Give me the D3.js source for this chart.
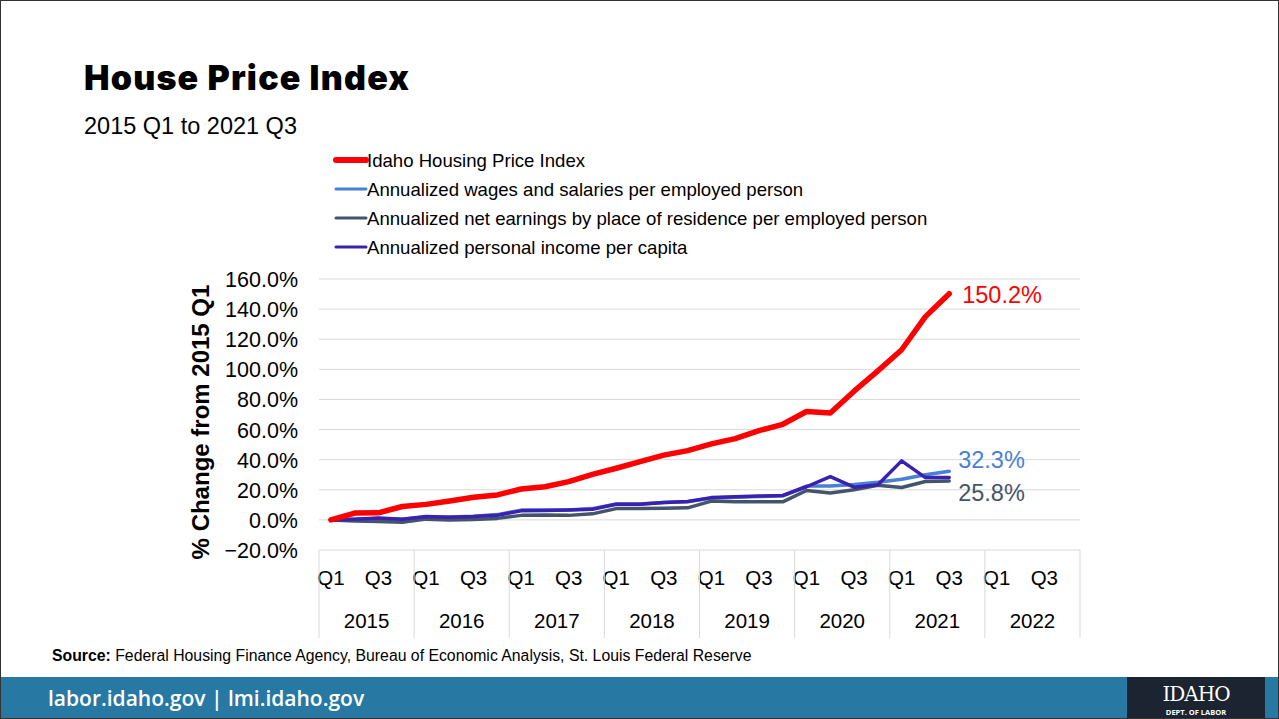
<!DOCTYPE html>
<html>
<head>
<meta charset="utf-8">
<script src="https://cdn.jsdelivr.net/npm/d3@7"></script>
<style>
  html, body { margin: 0; padding: 0; background: #fff; }
  svg { display: block; }
</style>
</head>
<body>
<svg id="chart" width="1279" height="719"></svg>
<script>
// ---------- DATA ----------
const years = ["2015", "2016", "2017", "2018", "2019", "2020", "2021", "2022"];
const quarters = ["Q1", "Q2", "Q3", "Q4"];
const shownQuarterLabels = ["Q1", "Q3"];
const yTicks = [-20, 0, 20, 40, 60, 80, 100, 120, 140, 160];

const housingIndex = [0, 4.5, 4.7, 8.9, 10.3, 12.5, 15, 16.6, 20.5, 22, 25.4, 30.2,
  34.3, 38.7, 43, 46, 50.5, 54, 59.3, 63.5, 72, 71, 85.5, 99, 113, 135, 150.2];
const wagesSalaries = [0, 0.5, 1, 0.5, 2, 2, 2.5, 3.5, 6.5, 6.5, 6.5, 7.5,
  10.5, 10.5, 11.5, 12, 14.5, 15, 15.5, 16, 22.5, 22.5, 23.5, 25, 27, 30, 32.3];
const netEarnings = [0, -0.8, -1, -1.5, 0.5, 0, 0.3, 1, 3, 3.3, 3, 4,
  7.5, 7.5, 7.8, 8, 12.5, 12, 12, 12, 19.5, 17.8, 20, 23, 21.5, 25.5, 25.8];
const personalIncome = [0, 0.5, 1.3, 0.4, 2.2, 1.8, 2.2, 3.1, 6, 6.2, 6.6, 7.1,
  10.4, 10.4, 11.5, 12.2, 14.8, 15.3, 15.8, 16.2, 22, 28.8, 21.7, 23.3, 39.2, 28.1, 28.1];

const seriesNames = [
  "Idaho Housing Price Index",
  "Annualized wages and salaries per employed person",
  "Annualized net earnings by place of residence per employed person",
  "Annualized personal income per capita"
];
const seriesColors = ["#ff0000", "#4a7fd6", "#44546a", "#3a22b0"];
const seriesValues = [housingIndex, wagesSalaries, netEarnings, personalIncome];
const endLabels = ["150.2%", "32.3%", "25.8%"];

// ---------- LAYOUT ----------
const svg = d3.select("#chart");
const W = 1279, H = 719;
const plot = { left: 319, right: 1080, top: 279, bottom: 550 };
const AR = "'Liberation Sans', Arial, sans-serif";

// slide border
svg.append("rect").attr("x", 0.5).attr("y", 0.5).attr("width", W - 1).attr("height", H - 1)
  .attr("fill", "#fff").attr("stroke", "#333").attr("stroke-width", 1);

// title + subtitle
svg.append("text").attr("x", 84).attr("y", 90)
  .attr("font-family", "Inter, 'Open Sans', Lato, sans-serif").attr("font-weight", 900)
  .attr("font-size", 34).attr("letter-spacing", 1.2).attr("fill", "#000").text("House Price Index");
svg.append("text").attr("x", 84).attr("y", 134)
  .attr("font-family", AR).attr("font-size", 23.5).attr("fill", "#000").text("2015 Q1 to 2021 Q3");

// scales
const cats = [];
years.forEach(yr => quarters.forEach(q => cats.push(yr + " " + q)));
const x = d3.scaleBand().domain(cats).range([plot.left, plot.right]).padding(0);
const y = d3.scaleLinear().domain([-20, 160]).range([plot.bottom, plot.top]);

// gridlines
svg.append("g").selectAll("line").data(yTicks).join("line")
  .attr("x1", plot.left).attr("x2", plot.right)
  .attr("y1", d => y(d)).attr("y2", d => y(d))
  .attr("stroke", "#d9d9d9").attr("stroke-width", 1);

// y axis labels
const yAxis = d3.axisLeft(y).tickValues(yTicks).tickSize(0).tickPadding(0)
  .tickFormat(d => d3.format(".1f")(d) + "%");
const yg = svg.append("g").attr("transform", `translate(298,0)`).call(yAxis);
yg.select(".domain").remove();
yg.selectAll("text").attr("font-family", AR)
  .attr("font-size", 21.5).attr("fill", "#000").attr("dy", "0.35em");

// y axis title
svg.append("text")
  .attr("transform", `translate(209,422) rotate(-90)`)
  .attr("text-anchor", "middle")
  .attr("font-family", AR)
  .attr("font-weight", "bold").attr("font-size", 24).attr("fill", "#000")
  .text("% Change from 2015 Q1");

// x axis: quarter labels
const xAxis = d3.axisBottom(x).tickSize(0).tickPadding(0)
  .tickValues(cats.filter(c => shownQuarterLabels.includes(c.split(" ")[1])))
  .tickFormat(c => c.split(" ")[1]);
const xg = svg.append("g").attr("transform", `translate(0,${plot.bottom})`).call(xAxis);
xg.select(".domain").remove();
xg.selectAll("text").attr("font-family", AR)
  .attr("font-size", 20.5).attr("fill", "#000").attr("dy", "35");

// year separators and labels
const yearStart = yr => x(yr + " Q1");
const sepX = years.map(yearStart).concat([plot.right]);
svg.append("g").selectAll("line").data(sepX).join("line")
  .attr("x1", d => d).attr("x2", d => d)
  .attr("y1", plot.bottom).attr("y2", 638)
  .attr("stroke", "#d9d9d9").attr("stroke-width", 1);
svg.append("g").selectAll("text").data(years).join("text")
  .attr("x", d => yearStart(d) + 2 * x.bandwidth())
  .attr("y", 628).attr("text-anchor", "middle")
  .attr("font-family", AR)
  .attr("font-size", 20.5).attr("fill", "#000").text(d => d);

// lines
const lineGen = d3.line()
  .x((d, i) => x(cats[i]) + x.bandwidth() / 2)
  .y(d => y(d));
const drawOrder = [1, 2, 3, 0];
const widths = [5.5, 3.5, 3.5, 3.5];
drawOrder.forEach(k => {
  svg.append("path").datum(seriesValues[k])
    .attr("d", lineGen).attr("fill", "none")
    .attr("stroke", seriesColors[k]).attr("stroke-width", widths[k])
    .attr("stroke-linejoin", "round").attr("stroke-linecap", "round");
});

// end labels
const lastIdx = housingIndex.length - 1;
const endX = x(cats[lastIdx]) + x.bandwidth() / 2;
const endLabelSpecs = [
  { text: endLabels[0], color: seriesColors[0], dx: 13, yv: housingIndex[lastIdx], dy: 9 },
  { text: endLabels[1], color: seriesColors[1], dx: 9, yv: wagesSalaries[lastIdx], dy: -3 },
  { text: endLabels[2], color: seriesColors[2], dx: 9, yv: netEarnings[lastIdx], dy: 20 }
];
svg.append("g").selectAll("text").data(endLabelSpecs).join("text")
  .attr("x", d => endX + d.dx).attr("y", d => y(d.yv) + d.dy)
  .attr("font-family", AR)
  .attr("font-size", 23.5).attr("fill", d => d.color).text(d => d.text);

// legend
const lg = svg.append("g");
const legendY = [160, 189, 218, 247];
seriesNames.forEach((name, k) => {
  lg.append("line").attr("x1", 336).attr("x2", 366)
    .attr("y1", legendY[k]).attr("y2", legendY[k])
    .attr("stroke", seriesColors[k]).attr("stroke-width", k === 0 ? 6 : 3)
    .attr("stroke-linecap", "round");
  lg.append("text").attr("x", 367).attr("y", legendY[k] + 6.5)
    .attr("font-family", AR)
    .attr("font-size", 18.6).attr("fill", "#000").text(name);
});

// source
const src = svg.append("text").attr("x", 52).attr("y", 661)
  .attr("font-family", AR).attr("font-size", 15.8).attr("fill", "#000");
src.append("tspan").attr("font-weight", "bold").text("Source:");
src.append("tspan").text(" Federal Housing Finance Agency, Bureau of Economic Analysis, St. Louis Federal Reserve");

// footer bar
svg.append("rect").attr("x", 1).attr("y", 677).attr("width", W - 2).attr("height", 41).attr("fill", "#2779a3");
svg.append("text").attr("x", 48).attr("y", 706)
  .attr("font-family", "'Open Sans', Roboto, sans-serif").attr("font-weight", 600)
  .attr("font-size", 21).attr("fill", "#fff").text("labor.idaho.gov  |  lmi.idaho.gov");
svg.append("rect").attr("x", 1127).attr("y", 677).attr("width", 138).attr("height", 41).attr("fill", "#1b2430");
svg.append("text").attr("x", 1196).attr("y", 701).attr("text-anchor", "middle")
  .attr("font-family", "'DejaVu Serif', 'Liberation Serif', serif")
  .attr("font-size", 20).attr("fill", "#fff").attr("letter-spacing", -1).text("IDAHO");
svg.append("text").attr("x", 1196).attr("y", 715).attr("text-anchor", "middle")
  .attr("font-family", "'Open Sans', sans-serif").attr("font-weight", 700)
  .attr("font-size", 7.5).attr("fill", "#fff").text("DEPT. OF LABOR");
</script>
</body>
</html>
